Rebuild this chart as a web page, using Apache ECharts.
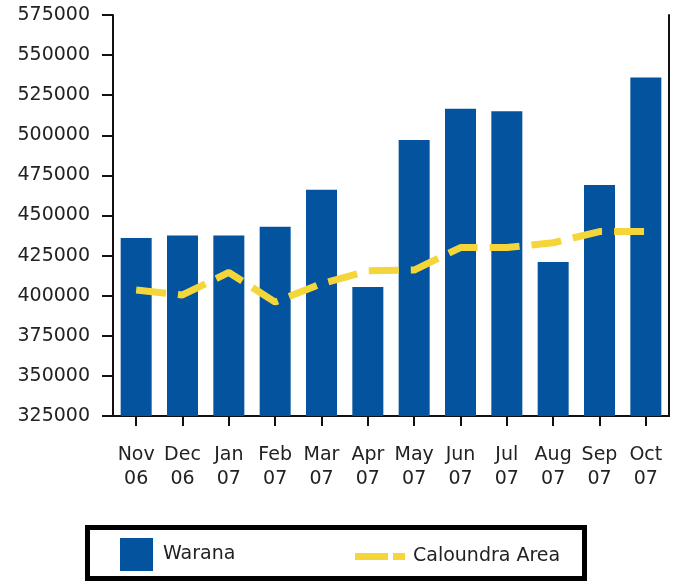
<!DOCTYPE html>
<html>
<head>
    <meta charset="UTF-8">
    <title></title>
    <script src="https://cdn.jsdelivr.net/npm/echarts@6/dist/echarts.min.js"></script>
    <style>
        *{margin:0;padding:0;}
        body,html{
            height: 100%;
            width: 100%;
            background: #fff;
        }
        #main{
            width: 679px;
            height: 582px;
        }
    </style>
</head>
<body>
<div id="main"></div>
</body>

<script>
    // 数据
    var months = ['Nov\n06', 'Dec\n06', 'Jan\n07', 'Feb\n07', 'Mar\n07', 'Apr\n07',
        'May\n07', 'Jun\n07', 'Jul\n07', 'Aug\n07', 'Sep\n07', 'Oct\n07'];
    var waranaData = [436000, 437500, 437500, 443000, 466000, 405500,
        497000, 516500, 515000, 421000, 469000, 536000];
    var caloundraData = [403500, 400500, 414500, 396000, 407500, 415500,
        416000, 430000, 430000, 433000, 440000, 440000];
    var yMin = 325000;
    var yMax = 575000;
    var yStep = 25000;

    var fontName = 'DejaVu Sans';
    var textColor = '#222';
    var barColor = '#03539f';
    var lineColor = '#f4d63a';

    var myChart = echarts.init(document.getElementById('main'));

    var option = {
        animation: false,
        grid: {
            left: 113,
            right: 10,
            top: 15,
            bottom: 166
        },
        legend: [{
            // Warana
            data: [{name: 'Warana', icon: 'rect'}],
            left: 120,
            top: 538,
            padding: 0,
            itemWidth: 33,
            itemHeight: 33,
            selectedMode: false,
            textStyle: {fontFamily: fontName, fontSize: 19, color: textColor, padding: [0, 0, 6, 5]}
        }, {
            // Caloundra Area
            data: [{
                name: 'Caloundra Area',
                icon: 'path://M0,0 H33 V7 H0 Z M38,0 H50 V7 H38 Z',
                itemStyle: {color: lineColor, borderWidth: 0}
            }],
            left: 355,
            top: 547,
            padding: 0,
            itemWidth: 50,
            itemHeight: 7,
            selectedMode: false,
            textStyle: {fontFamily: fontName, fontSize: 19, color: textColor, padding: [3, 0, 0, 3]}
        }],
        graphic: [{
            // 图例外框
            type: 'rect',
            shape: {x: 87.5, y: 527.5, width: 497, height: 51},
            style: {fill: 'none', stroke: '#000', lineWidth: 5},
            silent: true
        }],
        xAxis: {
            type: 'category',
            data: months,
            boundaryGap: true,
            axisLine: {show: true, lineStyle: {color: '#111', width: 2}},
            axisTick: {show: true, alignWithLabel: true, length: 10, lineStyle: {color: '#111', width: 2}},
            axisLabel: {
                margin: 27,
                fontFamily: fontName,
                fontSize: 19,
                lineHeight: 24,
                color: textColor,
                interval: 0
            },
            splitLine: {show: false}
        },
        yAxis: [{
            type: 'value',
            min: yMin,
            max: yMax,
            interval: yStep,
            axisLine: {show: true, lineStyle: {color: '#111', width: 2}},
            axisTick: {show: true, length: 11, lineStyle: {color: '#111', width: 2}},
            axisLabel: {
                margin: 23,
                fontFamily: fontName,
                fontSize: 19,
                color: textColor,
                formatter: function (v) { return String(v); }
            },
            splitLine: {show: false}
        }, {
            // 右侧边线
            type: 'value',
            position: 'right',
            min: yMin,
            max: yMax,
            interval: yStep,
            axisLine: {show: true, lineStyle: {color: '#111', width: 2}},
            axisTick: {show: false},
            axisLabel: {show: false},
            splitLine: {show: false}
        }],
        series: [{
            name: 'Warana',
            type: 'bar',
            data: waranaData,
            barWidth: 31,
            itemStyle: {color: barColor}
        }, {
            name: 'Caloundra Area',
            type: 'line',
            data: caloundraData,
            symbol: 'none',
            itemStyle: {color: lineColor},
            lineStyle: {color: lineColor, width: 7, type: [30, 12]}
        }]
    };
    myChart.setOption(option);
</script>
</html>
